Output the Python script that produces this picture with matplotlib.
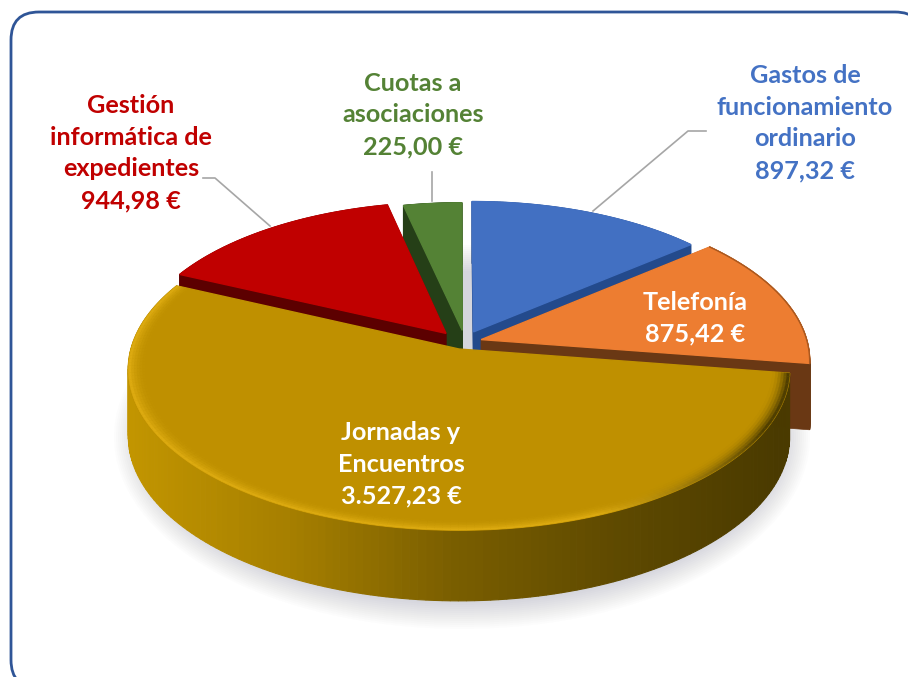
import numpy as np
import matplotlib
matplotlib.use("Agg")
import matplotlib.pyplot as plt
from matplotlib.colors import LinearSegmentedColormap, to_rgb
from matplotlib.patches import FancyBboxPatch, Ellipse

plt.rcParams["font.family"] = ["Lato", "DejaVu Sans"]

names = ["Gastos de\nfuncionamiento\nordinario", "Telefonía", "Jornadas y\nEncuentros",
         "Gestión\ninformática de\nexpedientes", "Cuotas a\nasociaciones"]
values = [897.32, 875.42, 3527.23, 944.98, 225.00]
amounts = ["897,32 €", "875,42 €", "3.527,23 €", "944,98 €", "225,00 €"]
top_colors = ["#4270c2", "#ed7d31", "#bf9000", "#c00000", "#548235"]
wall_colors = ["#234a8c", "#6a3814", "#5c4500", "#5c0000", "#253f17"]
label_colors = ["#4472c4", "white", "white", "#c00000", "#548235"]

# slice offsets on the pie plane and radius
offsets = [(0.045, 0.11), (0.068, 0.06), (0.0, 0.0), (-0.04, 0.10), (0.01, 0.12)]
radii = [0.95, 1.0, 1.0, 0.955, 0.93]
label_pos = [(805, 123), (695, 318), (401, 464), (131, 153), (413, 115)]

CX, CY, RX, RY, K, DEPTH = 459, 349, 328, 158, 0.128, 66


def project(x, y, z=0.0):
    d = 1 + K * y
    return CX + RX * x / d, CY - RY * y / d + z / np.sqrt(d)


def outline(i, a0, a1, r=None, z=0.0, n=160):
    r = radii[i] if r is None else r
    t = np.linspace(a0, a1, n)
    return project(offsets[i][0] + r * np.sin(t), offsets[i][1] + r * np.cos(t), z)


def mix(c, other, f):
    c, other = np.array(to_rgb(c)), np.array(to_rgb(other))
    return tuple(c * (1 - f) + other * f)


edges = np.cumsum([0] + values) / sum(values) * 2 * np.pi
gold_side = LinearSegmentedColormap.from_list("g", ["#c29500", "#a67f00", "#7a5e00", "#5f4a00", "#4a3a00"])

fig, ax = plt.subplots(figsize=(9.08, 6.77), dpi=100)
fig.subplots_adjust(0, 0, 1, 1)
ax.set_xlim(0, 908)
ax.set_ylim(677, 0)
ax.axis("off")

ax.add_patch(FancyBboxPatch((36, 37), 862, 626, boxstyle="round,pad=25,rounding_size=28",
                            fc="white", ec="#2f5597", lw=2))

# soft shadow under the pie
for grow in np.linspace(16, -10, 14):
    ax.add_patch(Ellipse((462, 437), 2 * 332 + 2 * grow, 2 * 176 + 2 * grow, fc="#555a70", ec="none", alpha=0.015))

for i in [0, 4, 3, 1, 2]:
    a0, a1 = edges[i], edges[i + 1]
    ax0, ay0 = project(*offsets[i])
    # cut faces
    if i != 2:
        for a in (a0, a1):
            x1, y1 = outline(i, a, a, n=1)
            x2, y2 = outline(i, a, a, z=DEPTH, n=1)
            ax.fill([ax0, x1[0], x2[0], ax0], [ay0, y1[0], y2[0], ay0 + DEPTH], color=wall_colors[i], lw=0.5)
    # outer rim in strips
    n = 160
    t = np.linspace(a0, a1, n)
    for j in range(n - 1):
        x1, y1 = outline(i, t[j], t[j + 1], n=2)
        x2, y2 = outline(i, t[j], t[j + 1], z=DEPTH, n=2)
        col = wall_colors[i]
        if i == 2:
            col = gold_side((x1[0] - 130) / 650)
        ax.fill(np.r_[x1, x2[::-1]], np.r_[y1, y2[::-1]], color=col, lw=0.8)
    # top face
    x, y = outline(i, a0, a1)
    ax.fill(np.r_[ax0, x], np.r_[ay0, y], color=top_colors[i], lw=1)
    if i == 1:
        ax.plot(x, y, color="#a9581f", lw=1)
    # bevel of the big slice
    if i == 2:
        rings = np.linspace(0.95, 1.0, 7)
        for j in range(n - 1):
            f = (t[j] - a0) / (a1 - a0)
            tint = mix("#4f3e00", "#dcaa10", np.clip((f - 0.1) / 0.2, 0, 1))
            for k in range(len(rings) - 1):
                u = (k + 1) / (len(rings) - 1)
                col = mix("#bf9000", tint, u ** 2)
                xa, ya = outline(i, t[j], t[j + 1], r=rings[k], n=2)
                xb, yb = outline(i, t[j], t[j + 1], r=rings[k + 1], n=2)
                ax.fill(np.r_[xa, xb[::-1]], np.r_[ya, yb[::-1]], color=col, lw=0.3)

# leader lines
ax.plot([593, 688, 706], [211, 131, 131], color="#a6a6a6", lw=1.2)
ax.plot([431.5, 431.5], [201, 172], color="#a6a6a6", lw=1.2)
ax.plot([270, 215, 203], [226, 178, 178], color="#a6a6a6", lw=1.2)

for name, amount, pos, col in zip(names, amounts, label_pos, label_colors):
    ax.text(pos[0], pos[1], name + "\n" + amount, color=col, fontsize=18.2, fontweight="bold",
            ha="center", va="center", linespacing=1.46)

fig.savefig("out.png", dpi=100)
